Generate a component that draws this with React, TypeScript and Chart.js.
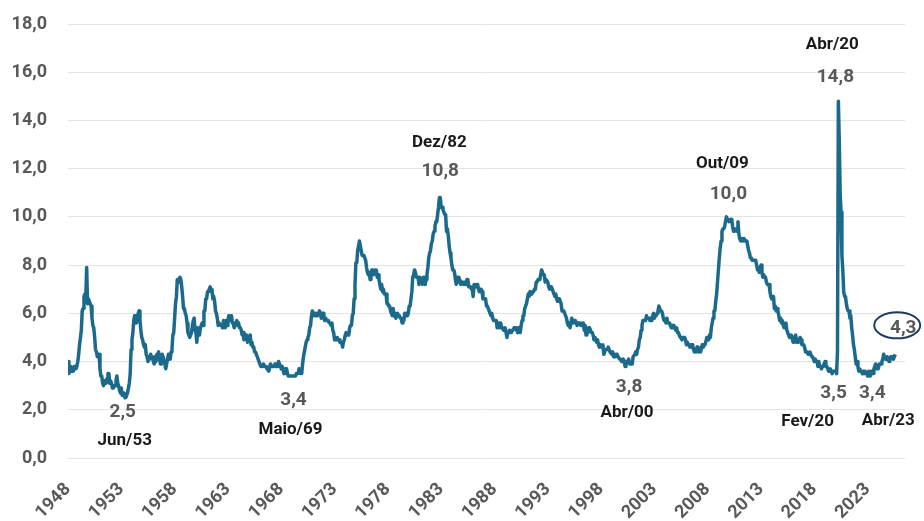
import { useEffect, useRef } from 'react';
import { Chart, registerables } from 'chart.js';

Chart.register(...registerables);

const startYear = 1948;

// Monthly unemployment rate (%), January 1948 onwards
const rate1948_1957 = [
  4.0, 3.5, 3.6, 3.8, 3.6, 3.6, 3.6, 3.8, 3.8, 3.7, 3.8, 4.0,
  4.3, 4.7, 5.0, 5.3, 6.1, 6.2, 6.7, 6.8, 6.6, 7.9, 6.4, 6.6,
  6.5, 6.4, 6.3, 5.8, 5.5, 5.4, 5.0, 4.5, 4.4, 4.2, 4.2, 4.3,
  3.7, 3.4, 3.4, 3.1, 3.0, 3.2, 3.1, 3.1, 3.3, 3.5, 3.5, 3.1,
  3.2, 3.1, 2.9, 2.9, 3.0, 3.0, 3.2, 3.4, 3.1, 3.0, 2.8, 2.7,
  2.9, 2.6, 2.6, 2.7, 2.5, 2.5, 2.6, 2.7, 2.9, 3.1, 3.5, 4.5,
  4.9, 5.2, 5.7, 5.9, 5.9, 5.6, 5.8, 6.0, 6.1, 5.7, 5.3, 5.0,
  4.9, 4.7, 4.6, 4.7, 4.3, 4.2, 4.0, 4.2, 4.1, 4.3, 4.2, 4.2,
  4.0, 3.9, 4.2, 4.0, 4.3, 4.3, 4.4, 4.1, 3.9, 3.9, 4.3, 4.2,
  4.2, 3.9, 3.7, 3.9, 4.1, 4.3, 4.2, 4.1, 4.4, 4.5, 5.1, 5.2,
];
const rate1958_1967 = [
  5.8, 6.4, 6.7, 7.4, 7.4, 7.3, 7.5, 7.4, 7.1, 6.7, 6.2, 6.2,
  6.0, 5.9, 5.6, 5.2, 5.1, 5.0, 5.1, 5.2, 5.5, 5.7, 5.8, 5.3,
  5.2, 4.8, 5.4, 5.2, 5.1, 5.4, 5.5, 5.6, 5.5, 6.1, 6.1, 6.6,
  6.6, 6.9, 6.9, 7.0, 7.1, 6.9, 7.0, 6.6, 6.7, 6.5, 6.1, 6.0,
  5.8, 5.5, 5.6, 5.6, 5.5, 5.5, 5.4, 5.7, 5.6, 5.4, 5.7, 5.5,
  5.7, 5.9, 5.7, 5.7, 5.9, 5.6, 5.6, 5.4, 5.5, 5.5, 5.7, 5.5,
  5.6, 5.4, 5.4, 5.3, 5.1, 5.2, 4.9, 5.0, 5.1, 5.1, 4.8, 5.0,
  4.9, 5.1, 4.7, 4.8, 4.6, 4.6, 4.4, 4.4, 4.3, 4.2, 4.1, 4.0,
  4.0, 3.8, 3.8, 3.8, 3.9, 3.8, 3.8, 3.8, 3.7, 3.7, 3.6, 3.8,
  3.9, 3.8, 3.8, 3.8, 3.8, 3.9, 3.8, 3.8, 3.8, 4.0, 3.9, 3.8,
];
const rate1968_1977 = [
  3.7, 3.8, 3.7, 3.5, 3.5, 3.7, 3.7, 3.5, 3.4, 3.4, 3.4, 3.4,
  3.4, 3.4, 3.4, 3.4, 3.4, 3.5, 3.5, 3.5, 3.7, 3.7, 3.5, 3.5,
  3.9, 4.2, 4.4, 4.6, 4.8, 4.9, 5.0, 5.1, 5.4, 5.5, 5.9, 6.1,
  5.9, 5.9, 6.0, 5.9, 5.9, 5.9, 6.0, 6.1, 6.0, 5.8, 6.0, 6.0,
  5.8, 5.7, 5.8, 5.7, 5.7, 5.7, 5.6, 5.6, 5.5, 5.6, 5.3, 5.2,
  4.9, 5.0, 4.9, 5.0, 4.9, 4.9, 4.8, 4.8, 4.8, 4.6, 4.8, 4.9,
  5.1, 5.2, 5.1, 5.1, 5.1, 5.4, 5.5, 5.5, 5.9, 6.0, 6.6, 7.2,
  8.1, 8.1, 8.6, 8.8, 9.0, 8.8, 8.6, 8.4, 8.4, 8.4, 8.3, 8.2,
  7.9, 7.7, 7.6, 7.7, 7.4, 7.6, 7.8, 7.8, 7.6, 7.7, 7.8, 7.8,
  7.5, 7.6, 7.4, 7.2, 7.0, 7.2, 6.9, 7.0, 6.8, 6.8, 6.8, 6.4,
];
const rate1978_1987 = [
  6.4, 6.3, 6.3, 6.1, 6.0, 5.9, 6.2, 5.9, 6.0, 5.8, 5.9, 6.0,
  5.9, 5.9, 5.8, 5.8, 5.6, 5.7, 5.7, 6.0, 5.9, 6.0, 5.9, 6.0,
  6.3, 6.3, 6.3, 6.9, 7.5, 7.6, 7.8, 7.7, 7.5, 7.5, 7.5, 7.2,
  7.5, 7.4, 7.4, 7.2, 7.5, 7.5, 7.2, 7.4, 7.6, 7.9, 8.3, 8.5,
  8.6, 8.9, 9.0, 9.3, 9.4, 9.6, 9.8, 9.8, 10.1, 10.4, 10.8, 10.8,
  10.4, 10.4, 10.3, 10.2, 10.1, 10.1, 9.4, 9.5, 9.2, 8.8, 8.5, 8.3,
  8.0, 7.8, 7.8, 7.7, 7.4, 7.2, 7.5, 7.5, 7.3, 7.4, 7.2, 7.3,
  7.3, 7.2, 7.2, 7.3, 7.2, 7.4, 7.4, 7.1, 7.1, 7.1, 7.0, 7.0,
  6.7, 7.2, 7.2, 7.1, 7.2, 7.2, 7.0, 6.9, 7.0, 7.0, 6.9, 6.6,
  6.6, 6.6, 6.6, 6.3, 6.3, 6.2, 6.1, 6.0, 5.9, 6.0, 5.8, 5.7,
];
const rate1988_1997 = [
  5.7, 5.7, 5.7, 5.4, 5.6, 5.4, 5.4, 5.6, 5.4, 5.4, 5.3, 5.3,
  5.4, 5.2, 5.0, 5.2, 5.2, 5.3, 5.2, 5.2, 5.3, 5.3, 5.4, 5.4,
  5.4, 5.3, 5.2, 5.4, 5.4, 5.2, 5.5, 5.7, 5.9, 5.9, 6.2, 6.3,
  6.4, 6.6, 6.8, 6.7, 6.9, 6.9, 6.8, 6.9, 6.9, 7.0, 7.0, 7.3,
  7.3, 7.4, 7.4, 7.4, 7.6, 7.8, 7.7, 7.6, 7.6, 7.3, 7.4, 7.4,
  7.3, 7.1, 7.0, 7.1, 7.1, 7.0, 6.9, 6.8, 6.7, 6.8, 6.6, 6.5,
  6.6, 6.6, 6.5, 6.4, 6.1, 6.1, 6.1, 6.0, 5.9, 5.8, 5.6, 5.5,
  5.6, 5.4, 5.4, 5.8, 5.6, 5.6, 5.7, 5.7, 5.6, 5.5, 5.6, 5.6,
  5.6, 5.5, 5.5, 5.6, 5.6, 5.3, 5.5, 5.1, 5.2, 5.2, 5.4, 5.4,
  5.3, 5.2, 5.2, 5.1, 4.9, 5.0, 4.9, 4.8, 4.9, 4.7, 4.6, 4.7,
];
const rate1998_2007 = [
  4.6, 4.6, 4.7, 4.3, 4.4, 4.5, 4.5, 4.5, 4.6, 4.5, 4.4, 4.4,
  4.3, 4.4, 4.2, 4.3, 4.2, 4.3, 4.3, 4.2, 4.2, 4.1, 4.1, 4.0,
  4.0, 4.1, 4.0, 3.8, 4.0, 4.0, 4.0, 4.1, 3.9, 3.9, 3.9, 3.9,
  4.2, 4.2, 4.3, 4.4, 4.3, 4.5, 4.6, 4.9, 5.0, 5.3, 5.5, 5.7,
  5.7, 5.7, 5.7, 5.9, 5.8, 5.8, 5.8, 5.7, 5.7, 5.7, 5.9, 6.0,
  5.8, 5.9, 5.9, 6.0, 6.1, 6.3, 6.2, 6.1, 6.1, 6.0, 5.8, 5.7,
  5.7, 5.6, 5.8, 5.6, 5.6, 5.6, 5.5, 5.4, 5.4, 5.5, 5.4, 5.4,
  5.3, 5.4, 5.2, 5.2, 5.1, 5.0, 5.0, 4.9, 5.0, 5.0, 5.0, 4.9,
  4.7, 4.8, 4.7, 4.7, 4.6, 4.6, 4.7, 4.7, 4.5, 4.4, 4.5, 4.4,
  4.6, 4.5, 4.4, 4.5, 4.4, 4.6, 4.7, 4.6, 4.7, 4.7, 4.7, 5.0,
];
const rate2008_2017 = [
  5.0, 4.9, 5.1, 5.0, 5.4, 5.6, 5.8, 6.1, 6.1, 6.5, 6.8, 7.3,
  7.8, 8.3, 8.7, 9.0, 9.4, 9.5, 9.5, 9.6, 9.8, 10.0, 9.9, 9.9,
  9.8, 9.8, 9.9, 9.9, 9.6, 9.4, 9.4, 9.5, 9.5, 9.4, 9.8, 9.3,
  9.1, 9.0, 9.0, 9.1, 9.0, 9.1, 9.0, 9.0, 9.0, 8.8, 8.6, 8.5,
  8.3, 8.3, 8.2, 8.2, 8.2, 8.2, 8.2, 8.0, 7.8, 7.8, 7.7, 7.9,
  8.0, 7.7, 7.5, 7.6, 7.5, 7.5, 7.3, 7.2, 7.2, 7.2, 6.9, 6.7,
  6.6, 6.7, 6.7, 6.2, 6.3, 6.1, 6.2, 6.1, 5.9, 5.7, 5.8, 5.6,
  5.7, 5.5, 5.4, 5.4, 5.6, 5.3, 5.2, 5.1, 5.0, 5.0, 5.1, 5.0,
  4.8, 4.9, 5.0, 5.1, 4.8, 4.9, 4.8, 4.9, 5.0, 4.9, 4.7, 4.7,
  4.7, 4.6, 4.4, 4.4, 4.4, 4.3, 4.3, 4.4, 4.3, 4.2, 4.2, 4.1,
];
const rate2018_2025 = [
  4.0, 4.1, 4.0, 4.0, 3.8, 4.0, 3.8, 3.8, 3.7, 3.8, 3.8, 3.9,
  4.0, 3.8, 3.8, 3.7, 3.6, 3.6, 3.7, 3.6, 3.5, 3.6, 3.6, 3.6,
  3.6, 3.5, 4.4, 14.8, 13.2, 11.0, 10.2, 8.4, 7.8, 6.9, 6.7, 6.7,
  6.4, 6.2, 6.1, 6.1, 5.8, 5.9, 5.4, 5.1, 4.7, 4.5, 4.2, 3.9,
  4.0, 3.8, 3.6, 3.7, 3.6, 3.6, 3.5, 3.6, 3.5, 3.6, 3.6, 3.5,
  3.4, 3.6, 3.5, 3.4, 3.6, 3.6, 3.5, 3.7, 3.8, 3.9, 3.7, 3.8,
  3.7, 3.9, 3.9, 3.9, 4.0, 4.1, 4.3, 4.2, 4.1, 4.1, 4.2, 4.1,
  4.0, 4.1, 4.2, 4.2, 4.2, 4.1, 4.2, 4.3,
];

const xTickYears = [1948, 1953, 1958, 1963, 1968, 1973, 1978, 1983, 1988, 1993, 1998, 2003, 2008, 2013, 2018, 2023];

// Highlighted points: date label, year, month (1-12), value
const highlightLabels = ['Jun/53', 'Maio/69', 'Dez/82', 'Abr/00', 'Out/09', 'Fev/20', 'Abr/20', 'Abr/23', ''];
const highlightYears = [1953, 1969, 1982, 2000, 2009, 2020, 2020, 2023, 2025];
const highlightMonths = [6, 5, 12, 4, 10, 2, 4, 4, 8];
const highlightValues = [2.5, 3.4, 10.8, 3.8, 10.0, 3.5, 14.8, 3.4, 4.3];

// text offsets (px) relative to each highlighted point: [valueDx, valueDy, dateDx, dateDy]
const highlightOffsets = [
  [-3, 15, -1, 43],
  [-2, 24, -5, 54],
  [0, -26, -1, -55],
  [4, 21, 2, 46],
  [2, -23, -4, -53],
  [-3, 20, -29, 48],
  [-3, -24, -6, -56],
  [2, 17, 18, 45],
  [8, -26, 0, 0],
];

const FONT = 'Roboto, "Open Sans", sans-serif';
const LINE_COLOR = '#1b6a8c';

const fmt = (v: number) => v.toFixed(1).replace('.', ',');

const highlightPlugin = {
  id: 'highlights',
  afterDatasetsDraw(chart: any) {
    const { ctx } = chart;
    const x = chart.scales.x;
    const y = chart.scales.y;
    ctx.save();
    ctx.textAlign = 'center';
    ctx.textBaseline = 'middle';
    highlightValues.forEach((v, i) => {
      const px = x.getPixelForValue(highlightYears[i] + (highlightMonths[i] - 1) / 12);
      const py = y.getPixelForValue(v);
      const [vdx, vdy, ddx, ddy] = highlightOffsets[i];
      if (!highlightLabels[i]) {
        ctx.beginPath();
        ctx.ellipse(px + 2, py - 29, 23, 13, 0, 0, Math.PI * 2);
        ctx.strokeStyle = '#1f3b63';
        ctx.lineWidth = 2;
        ctx.stroke();
      }
      ctx.font = `bold 19px ${FONT}`;
      ctx.fillStyle = '#595959';
      ctx.fillText(fmt(v), px + vdx, py + vdy);
      if (highlightLabels[i]) {
        ctx.font = `bold 17px ${FONT}`;
        ctx.fillStyle = '#1a1a1a';
        ctx.fillText(highlightLabels[i], px + ddx, py + ddy);
      }
    });
    ctx.restore();
  },
};

export default function App() {
  const ref = useRef<HTMLCanvasElement | null>(null);

  useEffect(() => {
    if (!ref.current) return;
    const all = [
      ...rate1948_1957, ...rate1958_1967, ...rate1968_1977, ...rate1978_1987,
      ...rate1988_1997, ...rate1998_2007, ...rate2008_2017, ...rate2018_2025,
    ];
    const points = all.map((v, i) => ({ x: startYear + i / 12, y: v }));

    const chart = new Chart(ref.current, {
      type: 'line',
      data: {
        datasets: [
          {
            data: points,
            borderColor: LINE_COLOR,
            borderWidth: 3.5,
            pointRadius: 0,
            tension: 0,
            fill: false,
            borderJoinStyle: 'round',
          },
        ],
      },
      options: {
        animation: false,
        responsive: false,
        devicePixelRatio: 1,
        layout: { padding: { top: 24, right: 19, left: 0, bottom: 0 } },
        plugins: { legend: { display: false }, tooltip: { enabled: false } },
        scales: {
          x: {
            type: 'linear',
            min: 1948,
            max: 2026.5,
            grid: { display: false, drawTicks: false },
            border: { display: false },
            afterBuildTicks: (scale: any) => {
              scale.ticks = xTickYears.map((v) => ({ value: v }));
            },
            afterFit: (scale: any) => {
              scale.height = 63;
              scale.paddingLeft = 0;
              scale.paddingRight = 0;
            },
            ticks: {
              autoSkip: false,
              maxRotation: 45,
              minRotation: 45,
              padding: 21,
              color: '#595959',
              font: { family: FONT, size: 18, weight: 'bold' },
              callback: (v: any) => String(v),
            },
          },
          y: {
            min: 0,
            max: 18,
            grid: { color: '#e3e3e3', lineWidth: 1, drawTicks: false },
            border: { display: false },
            afterFit: (scale: any) => {
              scale.width = 68;
              scale.paddingTop = 0;
              scale.paddingBottom = 0;
            },
            ticks: {
              stepSize: 2,
              padding: 21,
              color: '#595959',
              font: { family: FONT, size: 18, weight: 'bold' },
              callback: (v: any) => fmt(Number(v)),
            },
          },
        },
      },
      plugins: [highlightPlugin],
    });
    return () => chart.destroy();
  }, []);

  return (
    <div style={{ position: 'absolute', left: 0, top: 0, width: 924, height: 521, background: '#fff' }}>
      <canvas ref={ref} width={924} height={521} style={{ display: 'block' }} />
    </div>
  );
}
